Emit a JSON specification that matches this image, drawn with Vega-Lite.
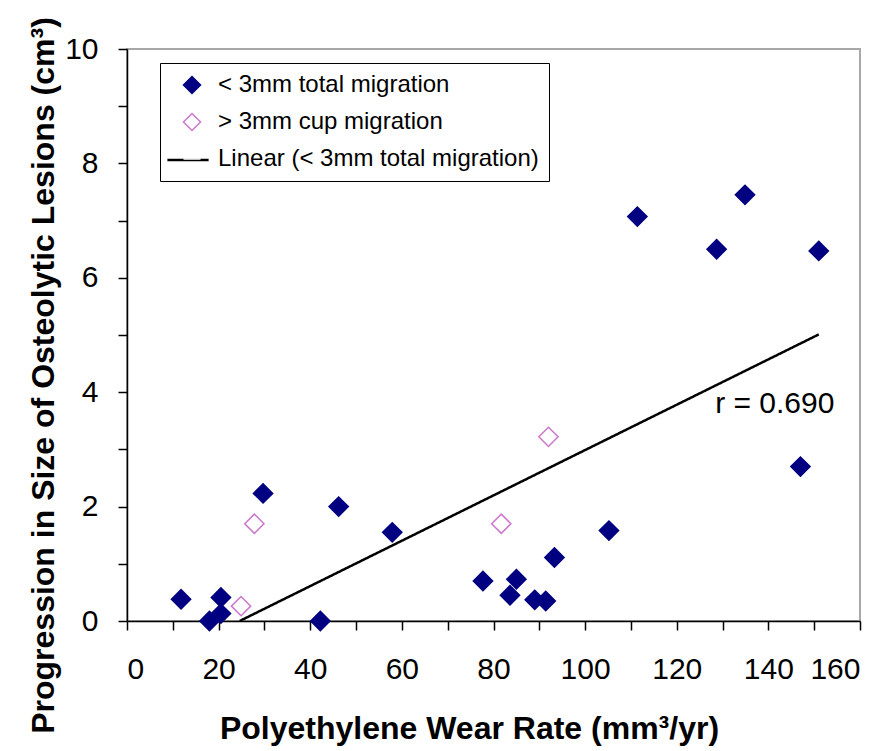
{
  "$schema": "https://vega.github.io/schema/vega-lite/v6.json",
  "width": 733,
  "height": 572,
  "autosize": {"type": "none"},
  "padding": {"left": 127, "top": 49, "right": 34, "bottom": 130},
  "background": "white",
  "config": {
    "font": "Liberation Sans",
    "view": {"stroke": "#a8a8a8", "strokeWidth": 2},
    "axis": {"grid": false, "domainColor": "black", "tickColor": "black", "domainWidth": 1.5, "tickWidth": 1.5, "labelColor": "black", "titleColor": "black", "labelFont": "Liberation Sans", "titleFont": "Liberation Sans"}
  },
  "datasets": {
    "points": [
      {"wear": 11.8, "lesion": 0.38, "series": "< 3mm total migration"},
      {"wear": 18.0, "lesion": 0.0, "series": "< 3mm total migration"},
      {"wear": 20.5, "lesion": 0.13, "series": "< 3mm total migration"},
      {"wear": 20.5, "lesion": 0.41, "series": "< 3mm total migration"},
      {"wear": 29.7, "lesion": 2.23, "series": "< 3mm total migration"},
      {"wear": 42.2, "lesion": 0.0, "series": "< 3mm total migration"},
      {"wear": 46.2, "lesion": 2.0, "series": "< 3mm total migration"},
      {"wear": 57.9, "lesion": 1.55, "series": "< 3mm total migration"},
      {"wear": 77.7, "lesion": 0.7, "series": "< 3mm total migration"},
      {"wear": 83.6, "lesion": 0.45, "series": "< 3mm total migration"},
      {"wear": 85.0, "lesion": 0.73, "series": "< 3mm total migration"},
      {"wear": 89.0, "lesion": 0.37, "series": "< 3mm total migration"},
      {"wear": 91.4, "lesion": 0.35, "series": "< 3mm total migration"},
      {"wear": 93.3, "lesion": 1.11, "series": "< 3mm total migration"},
      {"wear": 105.2, "lesion": 1.58, "series": "< 3mm total migration"},
      {"wear": 111.4, "lesion": 7.07, "series": "< 3mm total migration"},
      {"wear": 128.7, "lesion": 6.5, "series": "< 3mm total migration"},
      {"wear": 134.9, "lesion": 7.45, "series": "< 3mm total migration"},
      {"wear": 147.0, "lesion": 2.7, "series": "< 3mm total migration"},
      {"wear": 151.0, "lesion": 6.47, "series": "< 3mm total migration"},
      {"wear": 24.9, "lesion": 0.26, "series": "> 3mm cup migration"},
      {"wear": 27.8, "lesion": 1.7, "series": "> 3mm cup migration"},
      {"wear": 81.7, "lesion": 1.7, "series": "> 3mm cup migration"},
      {"wear": 92.0, "lesion": 3.22, "series": "> 3mm cup migration"}
    ],
    "trend": [
      {"wear": 24.6, "lesion": 0.0, "fit": "Linear (< 3mm total migration)"},
      {"wear": 151.0, "lesion": 5.01, "fit": "Linear (< 3mm total migration)"}
    ],
    "annot": [
      {"wear": 141.4, "lesion": 3.79, "label": "r = 0.690"}
    ]
  },
  "layer": [
    {
      "data": {"name": "trend"},
      "mark": {"type": "line", "color": "black", "strokeWidth": 2.5},
      "encoding": {
        "x": {"field": "wear", "type": "quantitative", "scale": {"domain": [0, 160], "nice": false},
          "axis": {"values": [0,10,20,30,40,50,60,70,80,90,100,110,120,130,140,150,160], "format": "d", "labelExpr": "datum.value % 20 == 0 ? datum.label : ''", "tickSize": 9, "labelPadding": 24, "labelFontSize": 30, "title": "Polyethylene Wear Rate (mm³/yr)", "titleFontSize": 32, "titleFontWeight": "bold", "titleX": 342, "titleY": 117, "titleBaseline": "alphabetic", "titleAlign": "center", "titleAnchor": null}},
        "y": {"field": "lesion", "type": "quantitative", "scale": {"domain": [0, 10], "nice": false},
          "axis": {"values": [0,1,2,3,4,5,6,7,8,9,10], "format": "d", "labelExpr": "datum.value % 2 == 0 ? datum.label : ''", "tickSize": 9, "labelPadding": 20, "labelFontSize": 30, "title": "Progression in Size of Osteolytic Lesions (cm³)", "titleFontSize": 32, "titleFontWeight": "bold", "titleX": -74, "titleY": 326, "titleBaseline": "alphabetic", "titleAlign": "center", "titleAnchor": null}},
        "strokeDash": {"field": "fit", "type": "nominal", "scale": {"range": [[1, 0]]},
          "legend": {"orient": "none", "legendX": 39, "legendY": 89, "title": null, "padding": 0, "symbolType": "stroke", "symbolSize": 1700, "symbolStrokeWidth": 2.5, "symbolStrokeColor": "black", "labelExpr": "''", "labelFontSize": 1, "labelOffset": 0}}
      }
    },
    {
      "data": {"name": "points"},
      "mark": {"type": "point", "opacity": 1, "size": 370, "strokeWidth": 1.5},
      "encoding": {
        "x": {"field": "wear", "type": "quantitative"},
        "y": {"field": "lesion", "type": "quantitative"},
        "fill": {"field": "series", "type": "nominal",
          "scale": {"domain": ["< 3mm total migration", "> 3mm cup migration", "Linear (< 3mm total migration)"], "range": ["#000080", "#ffffff", "#ffffff"]},
          "legend": {"orient": "none", "legendX": 33, "legendY": 14, "title": null, "strokeColor": "black", "padding": 10, "labelFontSize": 24, "labelFont": "Liberation Sans", "labelColor": "black", "labelLimit": 0, "symbolSize": 290, "symbolStrokeWidth": 1.5, "symbolOffset": 10, "labelOffset": 14, "rowPadding": 13}},
        "stroke": {"field": "series", "type": "nominal",
          "scale": {"domain": ["< 3mm total migration", "> 3mm cup migration", "Linear (< 3mm total migration)"], "range": ["#000080", "#cc77cc", "#ffffff"]}},
        "shape": {"field": "series", "type": "nominal",
          "scale": {"domain": ["< 3mm total migration", "> 3mm cup migration", "Linear (< 3mm total migration)"], "range": ["diamond", "diamond", "stroke"]}}
      }
    },
    {
      "data": {"name": "annot"},
      "mark": {"type": "text", "fontSize": 30, "font": "Liberation Sans", "color": "black", "align": "center", "baseline": "middle"},
      "encoding": {
        "x": {"field": "wear", "type": "quantitative"},
        "y": {"field": "lesion", "type": "quantitative"},
        "text": {"field": "label"}
      }
    }
  ]
}
